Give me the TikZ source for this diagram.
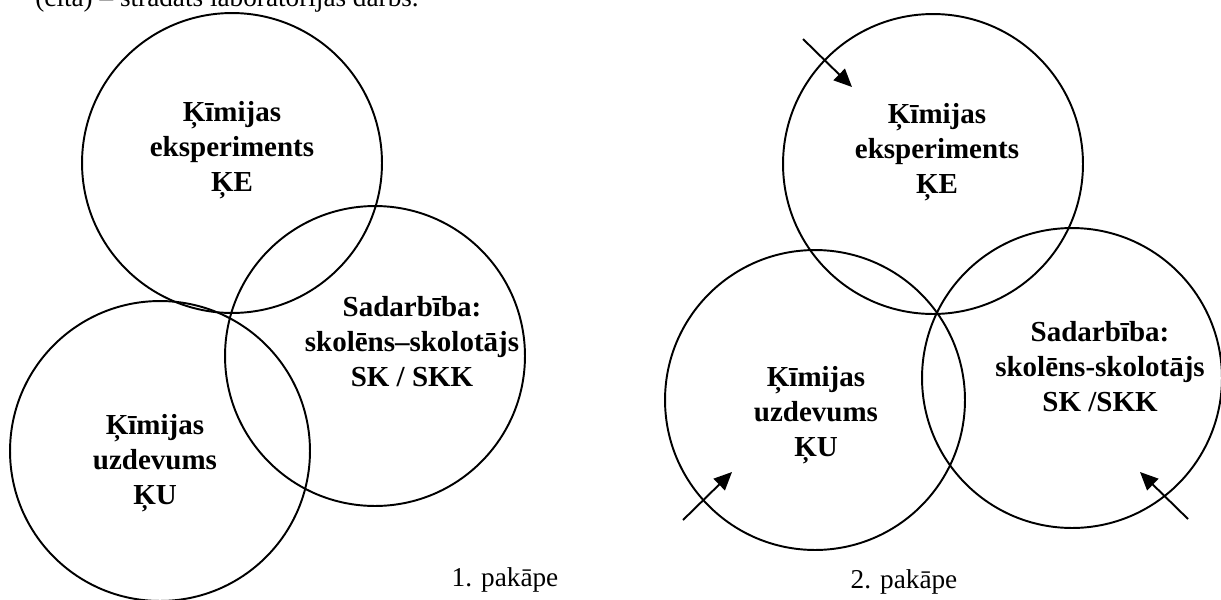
\documentclass[tikz,border=0pt]{standalone}
\usepackage{fontspec}
\setmainfont{Liberation Serif}
\usetikzlibrary{arrows.meta}

\begin{document}
\begin{tikzpicture}[x=0.02cm, y=-0.02cm,
    ring/.style={circle, draw, line width=1.1pt, minimum size=6cm, inner sep=0pt},
    lbl/.style={font=\bfseries\fontsize{16.5}{19.9}\selectfont, align=center},
    stagelbl/.style={font=\fontsize{15.5}{18}\selectfont},
    pointer/.style={line width=1.1pt, -{Triangle[length=3.6mm, width=3.2mm]}}]
  \useasboundingbox (0,0) rectangle (1221,599);
  % line cut off at the top
  \node[stagelbl, anchor=base west, inner sep=0pt] (hdr) at (35,6) {(cita) – strādāts laboratorijas darbs.};

  % 1. pakape
  \node[ring] (ke1) at (232,163) {};
  \node[ring] (sk1) at (375,356) {};
  \node[ring] (ku1) at (160,451) {};
  \node[lbl] (tke1) at (232,150) {Ķīmijas\\eksperiments\\ĶE};
  \node[lbl] (tsk1) at (412,342) {Sadarbība:\\skolēns–skolotājs\\SK / SKK};
  \node[lbl] (tku1) at (155,463) {Ķīmijas\\uzdevums\\ĶU};
  \node[stagelbl] (st1) at (505,580) {1. pakāpe};

  % 2. pakape
  \node[ring] (ke2) at (933,164) {};
  \node[ring] (ku2) at (815,400) {};
  \node[ring] (sk2) at (1072,378) {};
  \node[lbl] (tke2) at (937,152) {Ķīmijas\\eksperiments\\ĶE};
  \node[lbl] (tku2) at (816,415) {Ķīmijas\\uzdevums\\ĶU};
  \node[lbl] (tsk2) at (1100,367) {Sadarbība:\\skolēns-skolotājs\\SK /SKK};
  \node[stagelbl] (st2) at (904,582) {2. pakāpe};

  \coordinate (a1) at (803,39);
  \coordinate (b1) at (852,87);
  \coordinate (a2) at (683,520);
  \coordinate (b2) at (732,472);
  \coordinate (a3) at (1188,519);
  \coordinate (b3) at (1140,472);
  \draw[pointer] (a1) -- (b1);
  \draw[pointer] (a2) -- (b2);
  \draw[pointer] (a3) -- (b3);
\end{tikzpicture}
\end{document}
